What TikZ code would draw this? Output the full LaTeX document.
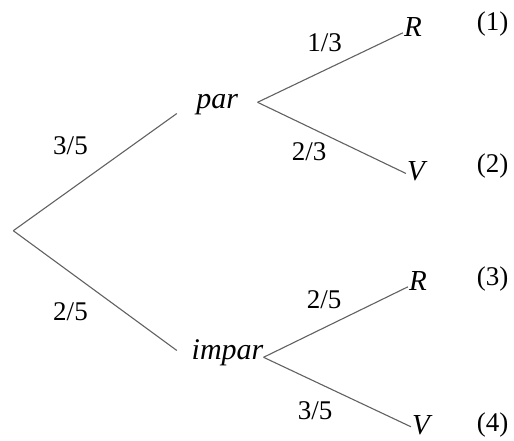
\documentclass[tikz,border=0pt]{standalone}
\usepackage{fontspec}
\setmainfont{Liberation Serif}

\begin{document}
\begin{tikzpicture}[x=1pt,y=-1pt]
            \tikzset{my event/.style = {inner sep=0pt, font=\fontsize{30}{34}\selectfont\itshape}}
            \tikzset{my outcome/.style = {inner sep=1pt, font=\fontsize{29}{34}\selectfont\itshape}}
            \tikzset{my prob/.style = {inner sep=0pt, font=\fontsize{27}{30}\selectfont}}
            \tikzset{my edge/.style = {-, draw=black!62, line width=1.1pt}}
            \useasboundingbox (0,0) rectangle (514,441);
            \coordinate (root) at (13.3,230.7);
            \node[my event, minimum width=80.3pt, text height=17.5pt, text depth=4.5pt] (par) at (217.2,102.3) {par};
            \node[my event, text width=86.3pt, align=right, text height=8.6pt, text depth=4.6pt] (impar) at (220.2,357.3) {impar};
            \node[my outcome] (r1) at (413,27) {R};
            \node[my outcome] (v2) at (416,171.7) {V};
            \node[my outcome] (r3) at (418,281) {R};
            \node[my outcome] (v4) at (421,425) {V};
            \draw[my edge] (root) -- (par.south west);
            \draw[my edge] (root) -- (impar.north west);
            \draw[my edge] (par.east) -- (r1.210);
            \draw[my edge] (par.east) -- (v2.190);
            \draw[my edge] (impar.east) -- (r3.210);
            \draw[my edge] (impar.east) -- (v4.190);
            \node[my prob] (p1) at (70.5,145.5) {3/5};
            \node[my prob] (p2) at (70.5,311.7) {2/5};
            \node[my prob] (p11) at (324.5,42.5) {1/3};
            \node[my prob] (p12) at (309,151.7) {2/3};
            \node[my prob] (p21) at (324,300) {2/5};
            \node[my prob] (p22) at (315,411) {3/5};
            \node[my prob] (n1) at (492.5,24.2) {(1)};
            \node[my prob] (n2) at (492.5,165.8) {(2)};
            \node[my prob] (n3) at (492.5,279.2) {(3)};
            \node[my prob] (n4) at (492.5,425) {(4)};
        \end{tikzpicture}
\end{document}
